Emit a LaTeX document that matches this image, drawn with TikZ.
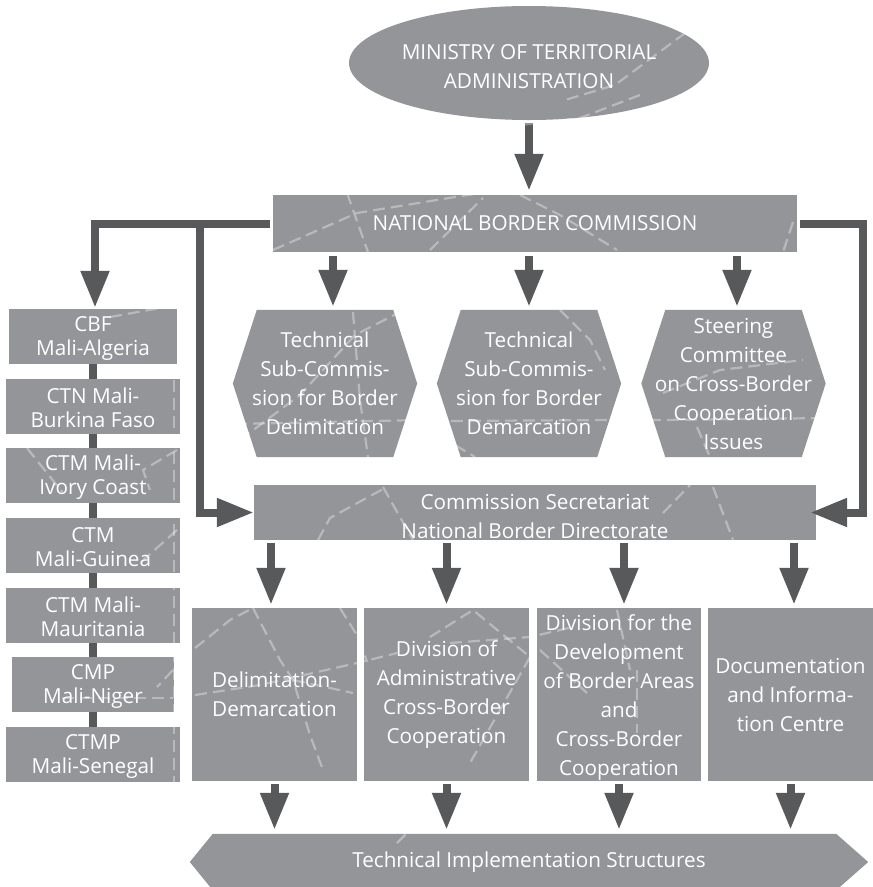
\documentclass[tikz,border=0pt]{standalone}
\usepackage{fontspec}
\setmainfont{Open Sans}
\usetikzlibrary{shapes.geometric,arrows.meta}
\pgfdeclarelayer{background}
\pgfsetlayers{background,main}
\definecolor{boxgray}{HTML}{939598}
\definecolor{arrgray}{HTML}{58595B}
\begin{document}
\begin{tikzpicture}[x=1pt,y=-1pt,
  box/.style={fill=boxgray, text=white, inner sep=0pt, align=center, font=\fontsize{20.7}{29}\selectfont},
  plain/.style={text=white, inner sep=0pt, align=center, font=\fontsize{20.7}{29}\selectfont},
  leftbox/.style={box, minimum width=174pt, minimum height=55pt, font=\fontsize{20.7}{24}\selectfont},
  lowbox/.style={box, minimum width=165pt, minimum height=173pt},
  arr/.style={draw=arrgray, line width=8pt, -{Triangle[length=37pt,width=27pt]}},
  link/.style={draw=arrgray, line width=8pt},
  hexfill/.style={fill=boxgray},
  texture/.style={draw=white, draw opacity=0.35, line width=2.2pt, dash pattern=on 12pt off 6pt}
]
\useasboundingbox (0,0) rectangle (873,887);

% nodes
\node[box, ellipse, minimum width=320pt, minimum height=114pt] (mta) at (529,63) {\rule{0pt}{23pt}MINISTRY OF TERRITORIAL\\ADMINISTRATION};
\node[box, minimum width=524pt, minimum height=57pt] (nbc) at (535,223.5) {NATIONAL BORDER COMMISSION};

\node[plain, minimum width=184pt, minimum height=147pt] (h1) at (325,383.5) {Technical\\Sub-Commis-\\sion for Border\\Delimitation};
\node[plain, minimum width=184pt, minimum height=147pt] (h2) at (529,383.5) {Technical\\Sub-Commis-\\sion for Border\\Demarcation};
\node[plain, minimum width=184pt, minimum height=147pt] (h3) at (733.5,383.5) {Steering\\Committee\\on Cross-Border\\Cooperation\\Issues};

\node[box, minimum width=562pt, minimum height=55pt] (sec) at (535,512.5) {\rule{0pt}{23pt}Commission Secretariat\\National Border Directorate};

\node[leftbox, minimum width=168pt] (b1) at (93,336.5) {\rule{0pt}{19pt}CBF\\Mali-Algeria};
\node[leftbox] (b2) at (93,406.5) {\rule{0pt}{19pt}CTN Mali-\\Burkina Faso};
\node[leftbox] (b3) at (93,475.5) {\rule{0pt}{19pt}CTM Mali-\\Ivory Coast};
\node[leftbox] (b4) at (93,545.5) {\rule{0pt}{19pt}CTM\\Mali-Guinea};
\node[leftbox] (b5) at (93,615.5) {\rule{0pt}{19pt}CTM Mali-\\Mauritania};
\node[leftbox, minimum width=162pt] (b6) at (93,684.5) {\rule{0pt}{19pt}CMP\\Mali-Niger};
\node[leftbox] (b7) at (93,754.5) {\rule{0pt}{19pt}CTMP\\Mali-Senegal};

\node[lowbox] (d1) at (274.5,694.5) {Delimitation-\\Demarcation};
\node[lowbox] (d2) at (446.5,694.5) {Division of\\Administrative\\Cross-Border\\Cooperation};
\node[lowbox, minimum width=164pt] (d3) at (619,694.5) {\rule{0pt}{22pt}Division for the\\Development\\of Border Areas\\and\\Cross-Border\\Cooperation};
\node[lowbox] (d4) at (790.5,694.5) {Documentation\\and Informa-\\tion Centre};

\node[plain, minimum width=678pt, minimum height=56pt] (tis) at (529,862) {Technical Implementation Structures};

% background shapes
\begin{pgfonlayer}{background}
\fill[white] (0,0) rectangle (873,887);
\foreach \h in {h1,h2,h3}{
  \fill[hexfill] ([xshift=24pt]\h.north west) -- ([xshift=-24pt]\h.north east) -- (\h.east)
    -- ([xshift=-24pt]\h.south east) -- ([xshift=24pt]\h.south west) -- (\h.west) -- cycle;
}
\fill[hexfill] (tis.west) -- ([xshift=23pt]tis.north west) -- ([xshift=-32pt]tis.north east) -- (tis.east)
    -- ([xshift=-32pt]tis.south east) -- ([xshift=23pt]tis.south west) -- cycle;
\end{pgfonlayer}

% connectors
\draw[arr, shorten <=3pt, shorten >=4pt] (mta.south) -- (mta.south |- nbc.north);

\coordinate (a1) at ([xshift=8pt]h1.north);
\coordinate (a2) at (h2.north);
\coordinate (a3) at ([xshift=3.5pt]h3.north);
\foreach \a in {a1,a2,a3}{
  \draw[arr, shorten <=4pt, shorten >=3pt] (\a |- nbc.south) -- (\a);
}

\coordinate (lc) at (95,223.5);
\coordinate (bc) at (200,223.5);
\coordinate (rc) at (863,223.5);
\draw[arr, shorten <=3pt, shorten >=1pt] (nbc.west) -- (lc) -- (lc |- b1.north);
\draw[arr] (bc) |- (sec.west);
\draw[arr, shorten <=3pt] (nbc.east) -- (rc) |- ([xshift=-6pt]sec.east);

\foreach \a/\b in {b1/b2,b2/b3,b3/b4,b4/b5,b5/b6,b6/b7}{
  \draw[link] (\a.south) -- (\b.north);
}

\coordinate (c1) at ([xshift=-3.5pt]d1.north);
\coordinate (c2) at (d2.north);
\coordinate (c3) at ([xshift=5pt]d3.north);
\coordinate (c4) at ([xshift=3.5pt]d4.north);
\foreach \c in {c1,c2,c3,c4}{
  \draw[arr, shorten <=3pt, shorten >=3pt] (\c |- sec.south) -- (\c);
}
\foreach \d in {d1,d2,d3,d4}{
  \draw[arr, shorten <=3pt, shorten >=4pt] (\d.south) -- (\d.south |- tis.north);
}

% map-like texture
\draw[texture] (700,22) -- (615,85) -- (565,100);
\draw[texture] (640,95) -- (580,118) -- (520,125);
\draw[texture] (273,250) -- (357,213) -- (455,197) -- (500,190);
\draw[texture] (347,193) -- (368,252);
\draw[texture] (520,195) -- (560,215) -- (617,250);
\draw[texture] (430,250) -- (483,198);
\draw[texture] (793,222) -- (783,252);
\draw[texture] (240,440) -- (300,395) -- (355,335) -- (400,312);
\draw[texture] (353,312) -- (360,400) -- (368,457);
\draw[texture] (235,424) -- (420,420) -- (440,421) -- (620,420) -- (660,420) -- (830,418);
\draw[texture] (560,310) -- (590,340) -- (605,370);
\draw[texture] (455,445) -- (475,457);
\draw[texture] (663,393) -- (720,370) -- (803,360);
\draw[texture] (697,427) -- (710,457);
\draw[texture] (318,540) -- (330,518) -- (383,489);
\draw[texture] (383,487) -- (413,540);
\draw[texture] (663,513) -- (690,485);
\draw[texture] (713,487) -- (733,540);
\draw[texture] (27,448) -- (63,493);
\draw[texture] (177,450) -- (143,470) -- (150,490);
\draw[texture] (174,380) -- (174,782);
\draw[texture] (177,530) -- (140,563);
\draw[texture] (173,670) -- (157,687);
\draw[texture] (62,698) -- (173,698);
\draw[texture] (110,317) -- (177,305);
\draw[texture] (195,648) -- (230,620) -- (253,608);
\draw[texture] (253,608) -- (280,660) -- (293,680) -- (310,735) -- (323,770);
\draw[texture] (195,695) -- (260,685) -- (357,663) -- (397,653);
\draw[texture] (293,680) -- (353,693);
\draw[texture] (340,608) -- (360,640) -- (367,662);
\draw[texture] (430,637) -- (473,610) -- (530,657);
\draw[texture] (450,643) -- (530,637) -- (573,627);
\draw[texture] (530,657) -- (470,763);
\draw[texture] (540,650) -- (587,693);
\draw[texture] (637,670) -- (637,733);
\draw[texture] (617,610) -- (630,670);
\draw[texture] (397,843) -- (407,833);
\end{tikzpicture}
\end{document}
